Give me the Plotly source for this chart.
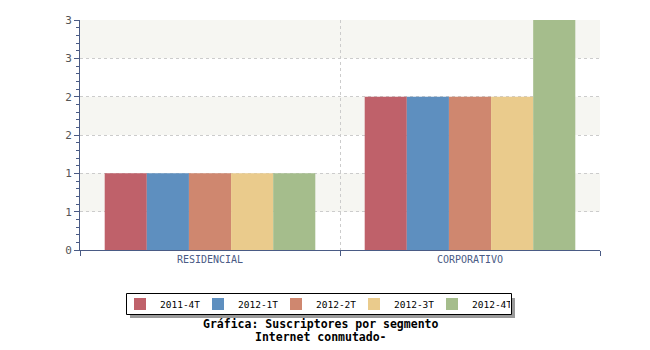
import plotly.graph_objects as go

categories = ["RESIDENCIAL", "CORPORATIVO"]
series_names = ["2011-4T", "2012-1T", "2012-2T", "2012-3T", "2012-4T"]
values_2011_4T = [1, 2]
values_2012_1T = [1, 2]
values_2012_2T = [1, 2]
values_2012_3T = [1, 2]
values_2012_4T = [1, 3]
series_values = [values_2011_4T, values_2012_1T, values_2012_2T, values_2012_3T, values_2012_4T]
colors = ["#BF616A", "#5E8FBF", "#CF876F", "#EACB8C", "#A5BD8C"]
y_tick_vals = [0, 0.5, 1, 1.5, 2, 2.5, 3]
y_tick_text = ["0", "1", "1", "2", "2", "3", "3"]
title_lines = ["Gráfica: Suscriptores por segmento", "Internet conmutado-"]

axis_color = "#4A5B85"
font_mono = "DejaVu Sans Mono"

fig = go.Figure()
for name, vals, col in zip(series_names, series_values, colors):
    fig.add_trace(go.Bar(
        x=categories, y=vals, name=name,
        marker=dict(color=col, line=dict(width=0)),
    ))


def px_x(px):
    return (px - 80) / 520


def px_y(py):
    return (250 - py) / 230


# alternating background bands
shapes = []
for i in range(0, len(y_tick_vals) - 1):
    if i % 2 == 1:
        shapes.append(dict(type="rect", xref="paper", yref="y",
                           x0=0, x1=1, y0=y_tick_vals[i], y1=y_tick_vals[i + 1],
                           fillcolor="#F6F6F2", line=dict(width=0), layer="below"))
# legend shadow and frame
shapes.append(dict(type="rect", xref="paper", yref="paper",
                   x0=px_x(130), x1=px_x(515), y0=px_y(318), y1=px_y(298),
                   fillcolor="#9A9A9A", line=dict(width=0), layer="above"))
shapes.append(dict(type="rect", xref="paper", yref="paper",
                   x0=px_x(126.5), x1=px_x(511.5), y0=px_y(314.5), y1=px_y(293.5),
                   fillcolor="white", line=dict(width=1, color="#000000"), layer="above"))

fig.update_layout(
    width=650, height=350,
    margin=dict(l=80, r=50, t=20, b=100, autoexpand=False),
    paper_bgcolor="white", plot_bgcolor="rgba(0,0,0,0)",
    barmode="group", bargap=0.19, bargroupgap=0,
    font=dict(family=font_mono, size=10, color="#333333"),
    shapes=shapes,
    showlegend=True,
    legend=dict(orientation="h", x=px_x(120), xanchor="left",
                y=px_y(304), yanchor="middle",
                borderwidth=0, bgcolor="rgba(0,0,0,0)",
                font=dict(family=font_mono, size=9.5, color="#000000"),
                itemwidth=30, entrywidth=33, entrywidthmode="pixels",
                tracegroupgap=0),
    annotations=[
        dict(text="<b>" + title_lines[0] + "</b>", xref="paper", yref="paper",
             x=0.463, y=px_y(324), xanchor="center", yanchor="middle", showarrow=False,
             font=dict(family=font_mono, size=11.5, color="#000000")),
        dict(text="<b>" + title_lines[1] + "</b>", xref="paper", yref="paper",
             x=0.463, y=px_y(337), xanchor="center", yanchor="middle", showarrow=False,
             font=dict(family=font_mono, size=11.5, color="#000000")),
    ],
)
fig.update_xaxes(
    type="category", range=[-0.5, 1.5], tickson="boundaries",
    showline=True, linecolor=axis_color, linewidth=1,
    ticks="outside", ticklen=5, tickcolor=axis_color,
    showgrid=True, gridcolor="#CCCCCC", griddash="3px,3px", gridwidth=1,
    tickfont=dict(family=font_mono, size=10, color=axis_color),
    zeroline=False,
)
fig.update_yaxes(
    range=[0, 3], tickvals=y_tick_vals, ticktext=y_tick_text,
    showline=True, linecolor=axis_color, linewidth=1,
    ticks="outside", ticklen=5, tickcolor=axis_color,
    showgrid=True, gridcolor="#CCCCCC", griddash="3px,3px", gridwidth=1,
    minor=dict(dtick=0.1, ticks="outside", ticklen=3, tickcolor=axis_color, showgrid=False),
    tickfont=dict(family=font_mono, size=11, color="#555555"),
    zeroline=False,
)
fig.write_html("out.html")
